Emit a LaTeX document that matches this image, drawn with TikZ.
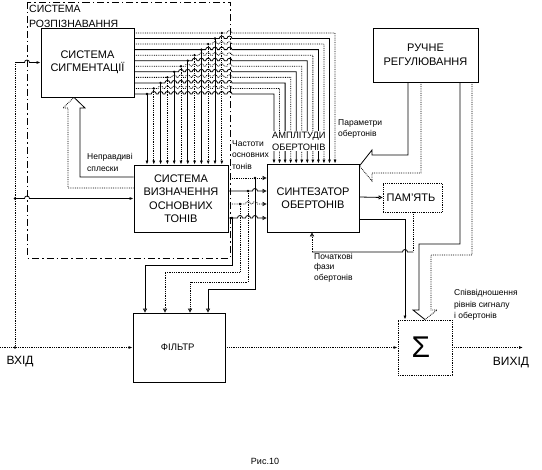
\documentclass[tikz,border=0pt]{standalone}
\usepackage{fontspec}
\setmainfont{Liberation Sans}
\usetikzlibrary{arrows.meta}

\begin{document}
\begin{tikzpicture}[
    x=1pt,
    y=-1pt,
    font=\fontsize{11}{13.5}\selectfont,
    >={Latex[length=4pt,width=3pt]},
    block/.style={
        draw,
        line width=0.8pt,
        fill=white,
        align=center,
        inner sep=0pt
    },
    note/.style={
        font=\fontsize{8.5}{11.5}\selectfont,
        align=left,
        anchor=west,
        inner sep=0pt
    },
    solidline/.style={
        line width=0.8pt
    },
    dotline/.style={
        line width=0.8pt,
        densely dotted
    },
    openarrow/.style={
        -{Triangle[open,length=4pt,width=4pt]}
    },
    junction/.style={
        circle,
        fill,
        inner sep=0pt,
        minimum size=2.6pt
    },
    hop/.style={
        start angle=180,
        end angle=0,
        radius=2.5pt
    },
    hopleft/.style={
        start angle=0,
        end angle=180,
        radius=2.5pt
    }
]

\useasboundingbox (0,0) rectangle (542,470);

% Recognition system frame
\draw[
    line width=0.8pt,
    dash pattern=on 7pt off 3pt on 1.5pt off 3pt
] (27,2) rectangle (230,258);

\node[
    anchor=west,
    align=left,
    inner sep=0pt,
    font=\fontsize{10.5}{15}\selectfont
] (recog) at (29,16) {
    СИСТЕМА\\РОЗПІЗНАВАННЯ
};

% Blocks
\node[block, minimum width=93pt, minimum height=69pt] (seg) at (87.5,62.5) {
    СИСТЕМА\\СИГМЕНТАЦІЇ
};

\node[block, minimum width=94pt, minimum height=67pt] (fund) at (181,198.5) {
    СИСТЕМА\\ВИЗНАЧЕННЯ\\ОСНОВНИХ\\ТОНІВ
};

\node[block, minimum width=92pt, minimum height=68pt] (synth) at (313,198) {
    СИНТЕЗАТОР\\ОБЕРТОНІВ
};

\node[block, dotline, minimum width=59pt, minimum height=29pt] (mem) at (412.5,197.5) {
    ПАМ'ЯТЬ
};

\node[block, minimum width=105pt, minimum height=54pt] (manual) at (425.5,55) {
    РУЧНЕ\\РЕГУЛЮВАННЯ
};

\node[
    block,
    font=\fontsize{9.5}{10}\selectfont,
    minimum width=92pt,
    minimum height=69pt
] (filt) at (179,347.5) {
    ФІЛЬТР
};

\node[
    block,
    dotline,
    font=\fontsize{30}{30}\selectfont,
    minimum width=54pt,
    minimum height=55pt
] (sum) at (425,347.5) {
    Σ
};

% Input signal
\coordinate (in) at (0,347.5);
\coordinate (split) at (15,347.5);
\coordinate (splitmid) at (15,198.5);

\draw[dotline, ->] (in) -- (filt.west);
\draw[dotline] (split) -- (split |- seg.west);
\draw[solidline, ->] (split |- seg.west) -- (24.5,62.5) arc[hop] -- (seg.west);
\draw[solidline, ->] (splitmid) -- (24.5,198.5) arc[hop] -- (fund.west);
\node[junction] at (split) {};
\node[junction] at (splitmid) {};

\node[font=\fontsize{12}{12}\selectfont] (inlabel) at (20,362) {ВХІД};

% Feedback to segmentation
\coordinate (fbtip) at (seg.south -| 74,0);
\draw[solidline] (fund.west |- 0,177) -- (80,177) -- (80,108) -- (85,108) -- (fbtip);
\draw[dotline] (fund.west |- 0,188) -- (68,188) -- (68,108) -- (63,108) -- (fbtip);

\node[note] (fblabel) at (87,162.5) {Неправдиві\\сплески};

% Segment bus: 12 lines
\foreach \k in {0,...,11}{
    \pgfmathsetmacro\yk{94-5.545*\k}
    \pgfmathsetmacro\xk{147+6.8*\k}
    \pgfmathsetmacro\xr{274+5.55*\k}
    \ifodd\k \def\busline{dotline}\else \def\busline{solidline}\fi
    \draw[\busline, ->] (seg.east |- 0,\yk)
        \foreach \m in {0,...,11}{
            \ifnum\m>\k -- ({147+6.8*\m-2.5},\yk) arc[hop] \fi
        }
        -- (227,\yk) arc[hop]
        -- (\xr,\yk) -- (synth.north -| \xr,0);
    \draw[\busline, ->] (\xk,\yk) -- (fund.north -| \xk,0);
    \node[junction] at (\xk,\yk) {};
}

\node[
    anchor=west,
    align=left,
    fill=white,
    inner sep=1pt,
    font=\fontsize{9.3}{12}\selectfont
] (amp) at (271,141) {
    АМПЛІТУДИ\\ОБЕРТОНІВ
};

\node[note] (freq) at (232,155) {Частоти\\основних\\тонів};

% Fundamental tones to synthesizer
\draw[dotline, openarrow] (fund.east |- 0,178) -- (synth.west |- 0,178);
\draw[solidline, openarrow] (fund.east |- 0,191)
    -- (252.5,191) arc[hop] -- (synth.west |- 0,191);
\draw[dotline, openarrow] (fund.east |- 0,204)
    -- (245.5,204) arc[hop] -- (252.5,204) arc[hop] -- (synth.west |- 0,204);
\draw[solidline, openarrow] (fund.east |- 0,218)
    -- (237.5,218) arc[hop] -- (245.5,218) arc[hop] -- (252.5,218) arc[hop]
    -- (synth.west |- 0,218);

% Branches to filter
\foreach \yb/\xb/\yt/\xf/\st in {
    218/232/265/145/solidline,
    204/240/272/165/dotline,
    191/248/282/190/dotline,
    178/255/289/208/solidline}{
    \draw[\st, openarrow] (\xb,\yb) -- (\xb,\yt) -- (\xf,\yt) -- (filt.north -| \xf,0);
    \node[junction] at (\xb,\yb) {};
}

% Manual control to synthesizer
\coordinate (ptip) at (synth.east |- 0,166);
\draw[solidline] (manual.south -| 408,0) -- (408,155) -- (372,155) -- (372,150) -- (ptip);
\draw[dotline] (manual.south -| 421,0) -- (421,173) -- (372,173) -- (372,181) -- (ptip);

\node[note] (parlabel) at (338,129) {Параметри\\обертонів};

% Manual control to summator
\draw[solidline] (manual.south -| 460,0) -- (460,244) -- (419,244) -- (419,310)
    -- (413,310) -- (sum.north);
\draw[dotline] (manual.south -| 472,0) -- (472,255) -- (431,255) -- (431,310)
    -- (437,310) -- (sum.north);

\node[note] (ratio) at (454,305) {Співвідношення\\рівнів сигналу\\і обертонів};

% Synthesizer outputs
\draw[solidline, openarrow] (synth.east |- 0,197) -- (mem.west);
\draw[solidline, ->] (synth.east |- 0,219) -- (405,219) -- (sum.north -| 405,0);

% Memory back to synthesizer
\draw[dotline] (mem.south -| 413,0) -- (413,252);
\draw[solidline] (413,252) -- (407.5,252) arc[hopleft] -- (312,252);
\draw[dotline, openarrow] (312,252) -- (synth.south -| 312,0);

\node[note, font=\fontsize{8.5}{10.5}\selectfont] (phase) at (314,267.5) {Початкові\\фази\\обертонів};

% Output signal
\coordinate (out) at (523,347.5);
\draw[dotline, ->] (filt.east) -- (sum.west);
\draw[dotline, ->] (sum.east) -- (out);

\node[font=\fontsize{12}{12}\selectfont] (outlabel) at (511,363) {ВИХІД};

\node[font=\fontsize{9}{9}\selectfont] (caption) at (265,461) {Рис.10};

\end{tikzpicture}
\end{document}
